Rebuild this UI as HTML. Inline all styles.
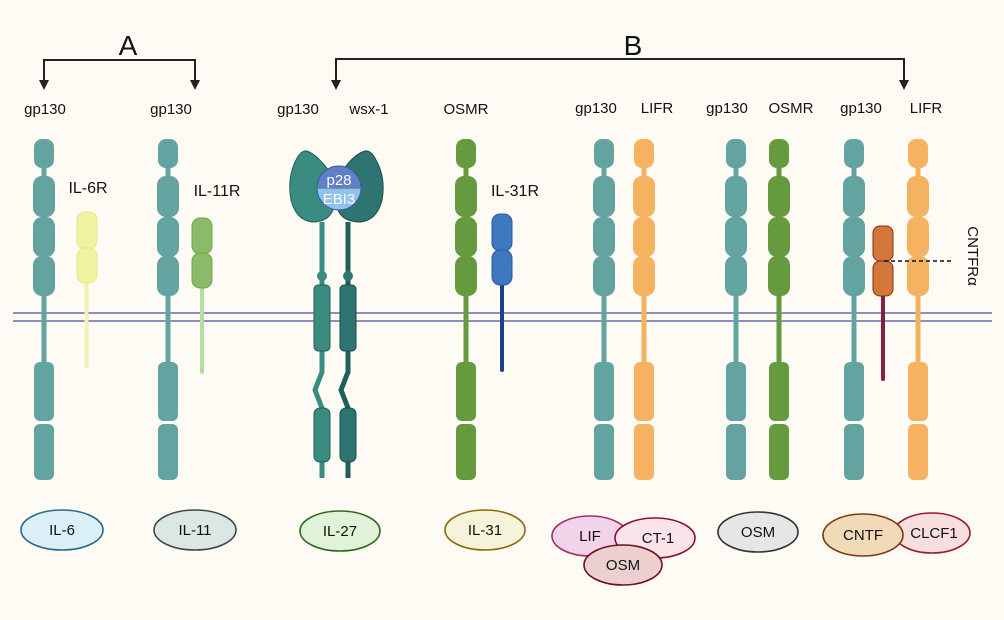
<!DOCTYPE html>
<html><head><meta charset="utf-8"><style>
html,body{margin:0;padding:0;background:#fdfbf3;}
svg{display:block;font-family:"Liberation Sans",sans-serif;}
</style></head><body>
<svg width="1004" height="620" viewBox="0 0 1004 620" xmlns="http://www.w3.org/2000/svg">
<defs>
<g id="chain">
<rect x="-2.5" y="150" width="5" height="220"/>
<rect x="-10" y="139" width="20" height="29" rx="8"/>
<rect x="-11" y="176" width="22" height="41" rx="9"/>
<rect x="-11" y="217" width="22" height="40" rx="9"/>
<rect x="-11" y="256" width="22" height="40" rx="9"/>
<rect x="-10" y="362" width="20" height="59" rx="6"/>
<rect x="-10" y="424" width="20" height="56" rx="6"/>
</g>
<marker id="ar" markerWidth="10" markerHeight="10" refX="5" refY="9" orient="0" markerUnits="userSpaceOnUse"><path d="M0,0 L10,0 L5,10 Z" fill="#222"/></marker>
</defs>
<rect width="1004" height="620" fill="#fdfbf3"/>

<!-- brackets -->
<g stroke="#222" stroke-width="2" fill="none">
<path d="M44,88 V60 H195 V88"/>
<path d="M336,88 V59 H904 V88"/>
</g>
<g fill="#222">
<path d="M39,80 L49,80 L44,90 Z"/><path d="M190,80 L200,80 L195,90 Z"/>
<path d="M331,80 L341,80 L336,90 Z"/><path d="M899,80 L909,80 L904,90 Z"/>
</g>
<text x="128" y="55" font-size="28" text-anchor="middle" fill="#111">A</text>
<text x="633" y="55" font-size="28" text-anchor="middle" fill="#111">B</text>

<g font-size="15" fill="#111" text-anchor="middle">
<text x="45" y="114">gp130</text><text x="171" y="114">gp130</text>
<text x="298" y="114">gp130</text><text x="369" y="114">wsx-1</text>
<text x="466" y="114">OSMR</text>
<text x="596" y="113">gp130</text><text x="657" y="113">LIFR</text>
<text x="727" y="113">gp130</text><text x="791" y="113">OSMR</text>
<text x="861" y="113">gp130</text><text x="926" y="113">LIFR</text>
<text x="88" y="193" font-size="16">IL-6R</text>
<text x="217" y="196" font-size="16">IL-11R</text>
<text x="515" y="196" font-size="16">IL-31R</text>
</g>
<text transform="translate(968,256) rotate(90)" font-size="15" text-anchor="middle" fill="#111">CNTFRα</text>

<!-- membrane -->
<line x1="13" y1="313" x2="992" y2="313" stroke="#8a90c2" stroke-width="2"/>
<line x1="13" y1="321" x2="992" y2="321" stroke="#8a90c2" stroke-width="2"/>

<!-- chains -->
<use href="#chain" transform="translate(44,0)" fill="#63a3a0"/>
<use href="#chain" transform="translate(168,0)" fill="#63a3a0"/>
<use href="#chain" transform="translate(466,0)" fill="#659a3e"/>
<use href="#chain" transform="translate(604,0)" fill="#63a3a0"/>
<use href="#chain" transform="translate(644,0)" fill="#f5b261"/>
<use href="#chain" transform="translate(736,0)" fill="#63a3a0"/>
<use href="#chain" transform="translate(779,0)" fill="#659a3e"/>
<use href="#chain" transform="translate(854,0)" fill="#63a3a0"/>
<use href="#chain" transform="translate(918,0)" fill="#f5b261"/>

<!-- IL-6R -->
<rect x="84.5" y="240" width="4" height="128" rx="2" fill="#eef3b0"/>
<rect x="77" y="212" width="20" height="37" rx="8" fill="#eff29f" stroke="#e2e890"/>
<rect x="77" y="248" width="20" height="35" rx="8" fill="#eff29f" stroke="#e2e890"/>
<!-- IL-11R -->
<rect x="200" y="270" width="4" height="104" rx="2" fill="#b8dca0"/>
<rect x="192" y="218" width="20" height="36" rx="8" fill="#8aba6a" stroke="#6ea84a"/>
<rect x="192" y="253" width="20" height="35" rx="8" fill="#8aba6a" stroke="#6ea84a"/>
<!-- IL-31R -->
<rect x="500" y="270" width="4" height="102" rx="2" fill="#1e3f8a"/>
<rect x="492" y="214" width="20" height="37" rx="8" fill="#4078c0" stroke="#2a58a0"/>
<rect x="492" y="250" width="20" height="35" rx="8" fill="#4078c0" stroke="#2a58a0"/>
<!-- CNTFRa -->
<rect x="881" y="280" width="4" height="101" rx="2" fill="#8a1e40"/>
<rect x="873" y="226" width="20" height="35" rx="7" fill="#d4763a" stroke="#7a3010"/>
<rect x="873" y="261" width="20" height="35" rx="7" fill="#d4763a" stroke="#7a3010"/>
<line x1="884" y1="261" x2="953" y2="261" stroke="#111" stroke-width="1.6" stroke-dasharray="4,3"/>

<!-- IL-27 -->
<g fill="none" stroke-width="5">
<path d="M322,222 V286 M322,350 V372 L315,390 L322,408 M322,460 V478" stroke="#3a8c80"/>
<path d="M348,222 V286 M348,350 V372 L341,390 L348,408 M348,460 V478" stroke="#1f5f5a"/>
</g>
<circle cx="322" cy="276" r="5" fill="#3a8c80"/>
<circle cx="348" cy="276" r="5" fill="#2e7470"/>
<rect x="314" y="285" width="16" height="66" rx="4" fill="#3a8c80" stroke="#1f5f5a"/>
<rect x="340" y="285" width="16" height="66" rx="4" fill="#2e7470" stroke="#1a4a48"/>
<rect x="314" y="408" width="16" height="54" rx="6" fill="#3a8c80" stroke="#1f5f5a"/>
<rect x="340" y="408" width="16" height="54" rx="6" fill="#2e7470" stroke="#1a4a48"/>
<path d="M307,151 Q301,150 296,160 Q287,178 291,200 Q296,220 312,222 Q328,222 333,210 Q338,190 332,175 Q318,155 307,151 Z" fill="#3a8c80" stroke="#1f5f5a"/>
<path d="M365,151 Q371,150 376,160 Q386,178 382,200 Q377,220 361,222 Q343,222 338,210 Q333,190 340,175 Q352,155 365,151 Z" fill="#2e7470" stroke="#1a4a48"/>
<path d="M317,188 A22,22 0 0 1 361,188 Z" fill="#5f7fc8"/>
<path d="M317,188 A22,22 0 0 0 361,188 Z" fill="#90c2ec"/>
<circle cx="339" cy="188" r="22" fill="none" stroke="#3a5aa0" stroke-width="1"/>
<line x1="318" y1="188" x2="360" y2="188" stroke="#6a80a0" stroke-width="1.5"/>
<text x="339" y="185" font-size="15" text-anchor="middle" fill="#fff">p28</text>
<text x="339" y="204" font-size="15" text-anchor="middle" fill="#fff">EBI3</text>

<!-- ligands -->
<g stroke-width="1.6" font-size="15" text-anchor="middle" fill="#111">
<ellipse cx="62" cy="530" rx="41" ry="20" fill="#dbeff7" stroke="#2a6a8a"/>
<text x="62" y="535">IL-6</text>
<ellipse cx="195" cy="530" rx="41" ry="20" fill="#dbe7e5" stroke="#404848"/>
<text x="195" y="535">IL-11</text>
<ellipse cx="340" cy="531" rx="40" ry="20" fill="#e0f2d8" stroke="#2e6a1e"/>
<text x="340" y="536">IL-27</text>
<ellipse cx="485" cy="530" rx="40" ry="20" fill="#f5f3d8" stroke="#8a6a10"/>
<text x="485" y="535">IL-31</text>
<ellipse cx="590" cy="536" rx="38" ry="20" fill="#f2d4ea" stroke="#a0306a"/>
<ellipse cx="655" cy="538" rx="40" ry="20" fill="#fbe3ea" stroke="#8a1030"/>
<text x="590" y="541">LIF</text>
<text x="658" y="543">CT-1</text>
<ellipse cx="623" cy="565" rx="39" ry="20" fill="#ecd0d0" stroke="#6a1020"/>
<text x="623" y="570">OSM</text>
<ellipse cx="758" cy="532" rx="40" ry="20" fill="#e6e6e6" stroke="#333"/>
<text x="758" y="537">OSM</text>
<ellipse cx="932" cy="533" rx="38" ry="20" fill="#f8dede" stroke="#9a1a30"/>
<ellipse cx="863" cy="535" rx="40" ry="21" fill="#f0dab8" stroke="#7a3a10"/>
<text x="863" y="540">CNTF</text>
<text x="934" y="538">CLCF1</text>
</g>
</svg>
</body></html>
